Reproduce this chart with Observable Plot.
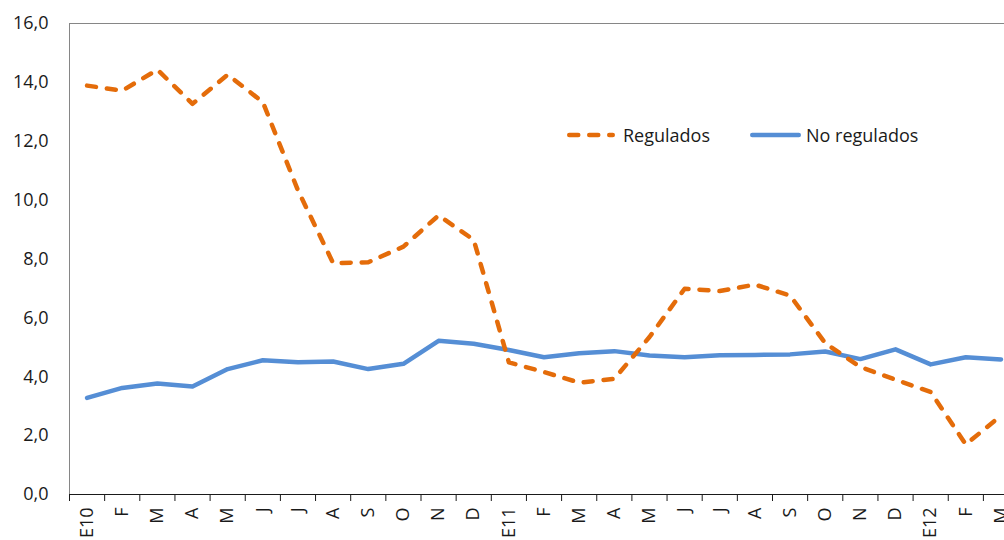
<!DOCTYPE html>
<html>
<head>
<meta charset="utf-8">
<script src="https://cdn.jsdelivr.net/npm/d3@7"></script>
<script src="https://cdn.jsdelivr.net/npm/@observablehq/plot@0.6"></script>
<style>
  html, body { margin: 0; padding: 0; background: #fff; }
  #wrap { position: relative; width: 1004px; height: 540px; overflow: hidden; }
  .leg { position: absolute; font-family: "Open Sans", sans-serif; font-size: 18px; line-height: 18px; color: #1a1a1a; white-space: nowrap; }
  .sw { position: absolute; }
</style>
</head>
<body>
<div id="wrap"></div>
<script>
const months = ["E10","F","M","A","M","J","J","A","S","O","N","D","E11","F","M","A","M","J","J","A","S","O","N","D","E12","F","M"];
const regulados = [13.89,13.72,14.43,13.27,14.26,13.33,10.33,7.86,7.89,8.42,9.48,8.65,4.49,4.16,3.80,3.93,5.35,6.99,6.91,7.13,6.76,5.14,4.33,3.90,3.48,1.70,2.68];
const noRegulados = [3.28,3.62,3.77,3.67,4.26,4.56,4.49,4.52,4.26,4.44,5.22,5.12,4.91,4.66,4.80,4.87,4.72,4.66,4.73,4.74,4.76,4.86,4.60,4.93,4.42,4.66,4.59];
const yTicks = [0,2,4,6,8,10,12,14,16];
const seriesNames = ["Regulados","No regulados"];
const colors = ["#E46C0A","#558ED5"];

const table = months.map((m, i) => ({i, m, reg: regulados[i], noreg: noRegulados[i]}));
const boundaries = d3.range(months.length + 1).map(k => k - 0.5);

const chart = Plot.plot({
  width: 1004,
  height: 540,
  marginLeft: 69,
  marginRight: 0,
  marginTop: 23,
  marginBottom: 46,
  style: "font-family: 'Open Sans', sans-serif; font-size: 18px; color: #1a1a1a; background: #fff; overflow: visible;",
  x: {
    type: "linear",
    domain: [-0.5, months.length - 0.5],
    range: [69, 69 + months.length * 35.15],
    ticks: boundaries,
    tickFormat: () => "",
    tickSize: 7,
    label: null
  },
  y: {
    domain: [0, 16],
    ticks: yTicks,
    tickFormat: d => d.toFixed(1).replace(".", ","),
    tickSize: 0,
    tickPadding: 21,
    label: null
  },
  marks: [
    Plot.ruleY([16], {stroke: "#868686", strokeWidth: 1}),
    Plot.ruleX([-0.5], {stroke: "#868686", strokeWidth: 1}),
    Plot.ruleY([0], {stroke: "#1a1a1a", strokeWidth: 1}),
    Plot.text(table, {x: "i", y: () => 0, text: "m", rotate: -90, textAnchor: "end", dy: 13, fontSize: 18, fill: "#1a1a1a"}),
    Plot.line(table, {x: "i", y: "noreg", stroke: colors[1], strokeWidth: 4.5, strokeLinejoin: "round", strokeLinecap: "round"}),
    Plot.line(table, {x: "i", y: "reg", stroke: colors[0], strokeWidth: 4.5, strokeDasharray: "9,11", strokeLinejoin: "round", strokeLinecap: "round"})
  ]
});
const wrap = document.getElementById("wrap");
wrap.appendChild(chart);

// legend
function addLegend(name, color, dashed, lineLeft, lineWidth, textLeft) {
  const ns = "http://www.w3.org/2000/svg";
  const s = document.createElementNS(ns, "svg");
  s.setAttribute("class", "sw");
  s.setAttribute("width", lineWidth + 6);
  s.setAttribute("height", 12);
  s.style.left = (lineLeft - 3) + "px";
  s.style.top = (135 - 6) + "px";
  const l = document.createElementNS(ns, "line");
  l.setAttribute("x1", 3 + 2.25); l.setAttribute("x2", 3 + lineWidth - 2.25);
  l.setAttribute("y1", 6); l.setAttribute("y2", 6);
  l.setAttribute("stroke", color); l.setAttribute("stroke-width", 4.5);
  l.setAttribute("stroke-linecap", "round");
  if (dashed) l.setAttribute("stroke-dasharray", "9,11");
  s.appendChild(l);
  wrap.appendChild(s);
  const t = document.createElement("div");
  t.className = "leg";
  t.textContent = name;
  t.style.left = textLeft + "px";
  t.style.top = "126px";
  wrap.appendChild(t);
}
addLegend(seriesNames[0], colors[0], true, 567, 48, 623);
addLegend(seriesNames[1], colors[1], false, 750, 51, 806);
</script>
</body>
</html>
